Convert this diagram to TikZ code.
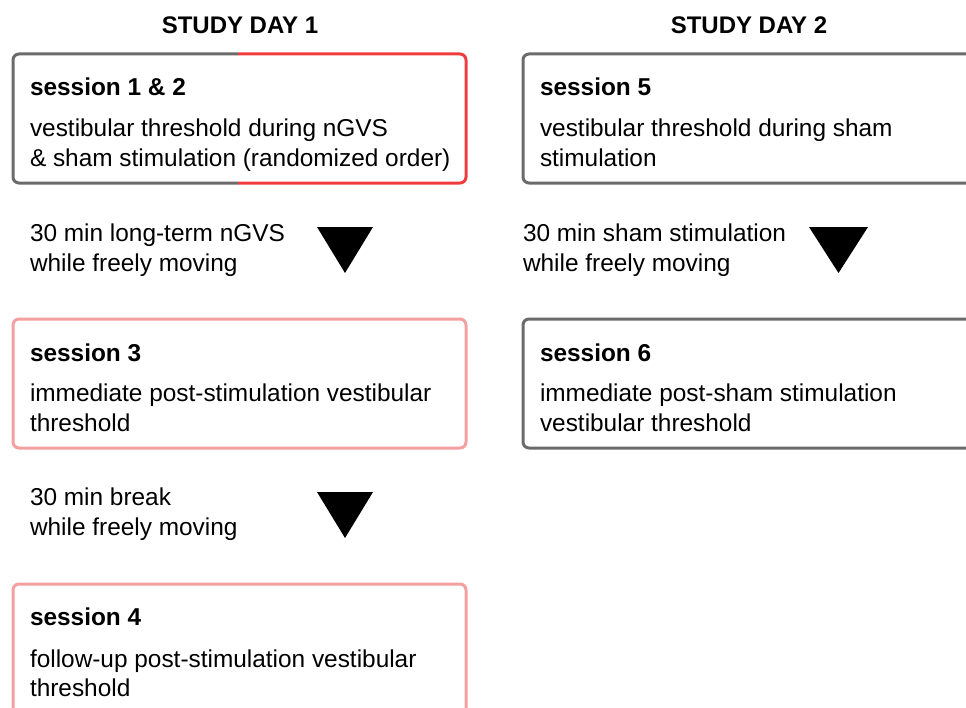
\documentclass[tikz,border=0pt]{standalone}
\usepackage{fontspec}
\setmainfont{Liberation Sans}
\definecolor{boxgray}{HTML}{6B6B6B}
\definecolor{boxred}{HTML}{F03C3C}
\definecolor{boxpink}{HTML}{F4A0A0}
\begin{document}
\begin{tikzpicture}[x=1bp,y=-1bp,
  every node/.style={inner sep=0pt,outer sep=0pt,font=\fontsize{24.4bp}{30bp}\selectfont},
  txt/.style={anchor=base west},
  ttl/.style={anchor=base west,font=\fontsize{24.4bp}{30bp}\selectfont\bfseries},
  hdr/.style={anchor=base,font=\fontsize{24bp}{30bp}\selectfont\bfseries},
  frame/.style={line width=3bp,rounded corners=6bp},
  tri/.style={fill=black}]
\clip (0,0) rectangle (966,708);
\fill[white] (0,0) rectangle (966,708);
% headers
\node[hdr] (h1) at (240,34) {STUDY DAY 1};
\node[hdr] (h2) at (749,34) {STUDY DAY 2};
% box 1 & 2 (split border)
\draw[frame,boxgray] (238,54) -- (13,54) -- (13,183) -- (238,183);
\draw[frame,boxred] (238,54) -- (466,54) -- (466,183) -- (238,183);
\node[ttl] (s12) at (30,96) {session 1 \& 2};
\node[txt] (s12a) at (30,137) {vestibular threshold during nGVS};
\node[txt] (s12b) at (30,167) {\& sham stimulation (randomized order)};
% box 5
\draw[frame,boxgray] (523,54) rectangle (1010,183);
\node[ttl] (s5) at (540,96) {session 5};
\node[txt] (s5a) at (540,137) {vestibular threshold during sham};
\node[txt] (s5b) at (540,167) {stimulation};
% between 1 and 3
\node[txt] (m1a) at (30,241) {30 min long-term nGVS};
\node[txt] (m1b) at (30,271) {while freely moving};
\fill[tri] (317,227) -- (373,227) -- (345,273) -- cycle;
\node[txt] (m2a) at (523,241) {30 min sham stimulation};
\node[txt] (m2b) at (523,271) {while freely moving};
\fill[tri] (809,227) -- (868,227) -- (838.5,273) -- cycle;
% box 3
\draw[frame,boxpink] (13,319) rectangle (466,448);
\node[ttl] (s3) at (30,361) {session 3};
\node[txt] (s3a) at (30,401) {immediate post-stimulation vestibular};
\node[txt] (s3b) at (30,431) {threshold};
% box 6
\draw[frame,boxgray] (523,319) rectangle (1010,448);
\node[ttl] (s6) at (540,361) {session 6};
\node[txt] (s6a) at (540,401) {immediate post-sham stimulation};
\node[txt] (s6b) at (540,431) {vestibular threshold};
% between 3 and 4
\node[txt] (m3a) at (30,505) {30 min break};
\node[txt] (m3b) at (30,535) {while freely moving};
\fill[tri] (317,492) -- (373,492) -- (345,538) -- cycle;
% box 4
\draw[frame,boxpink] (13,584) rectangle (466,760);
\node[ttl] (s4) at (30,625) {session 4};
\node[txt] (s4a) at (30,667) {follow-up post-stimulation vestibular};
\node[txt] (s4b) at (30,696) {threshold};
\end{tikzpicture}
\end{document}
